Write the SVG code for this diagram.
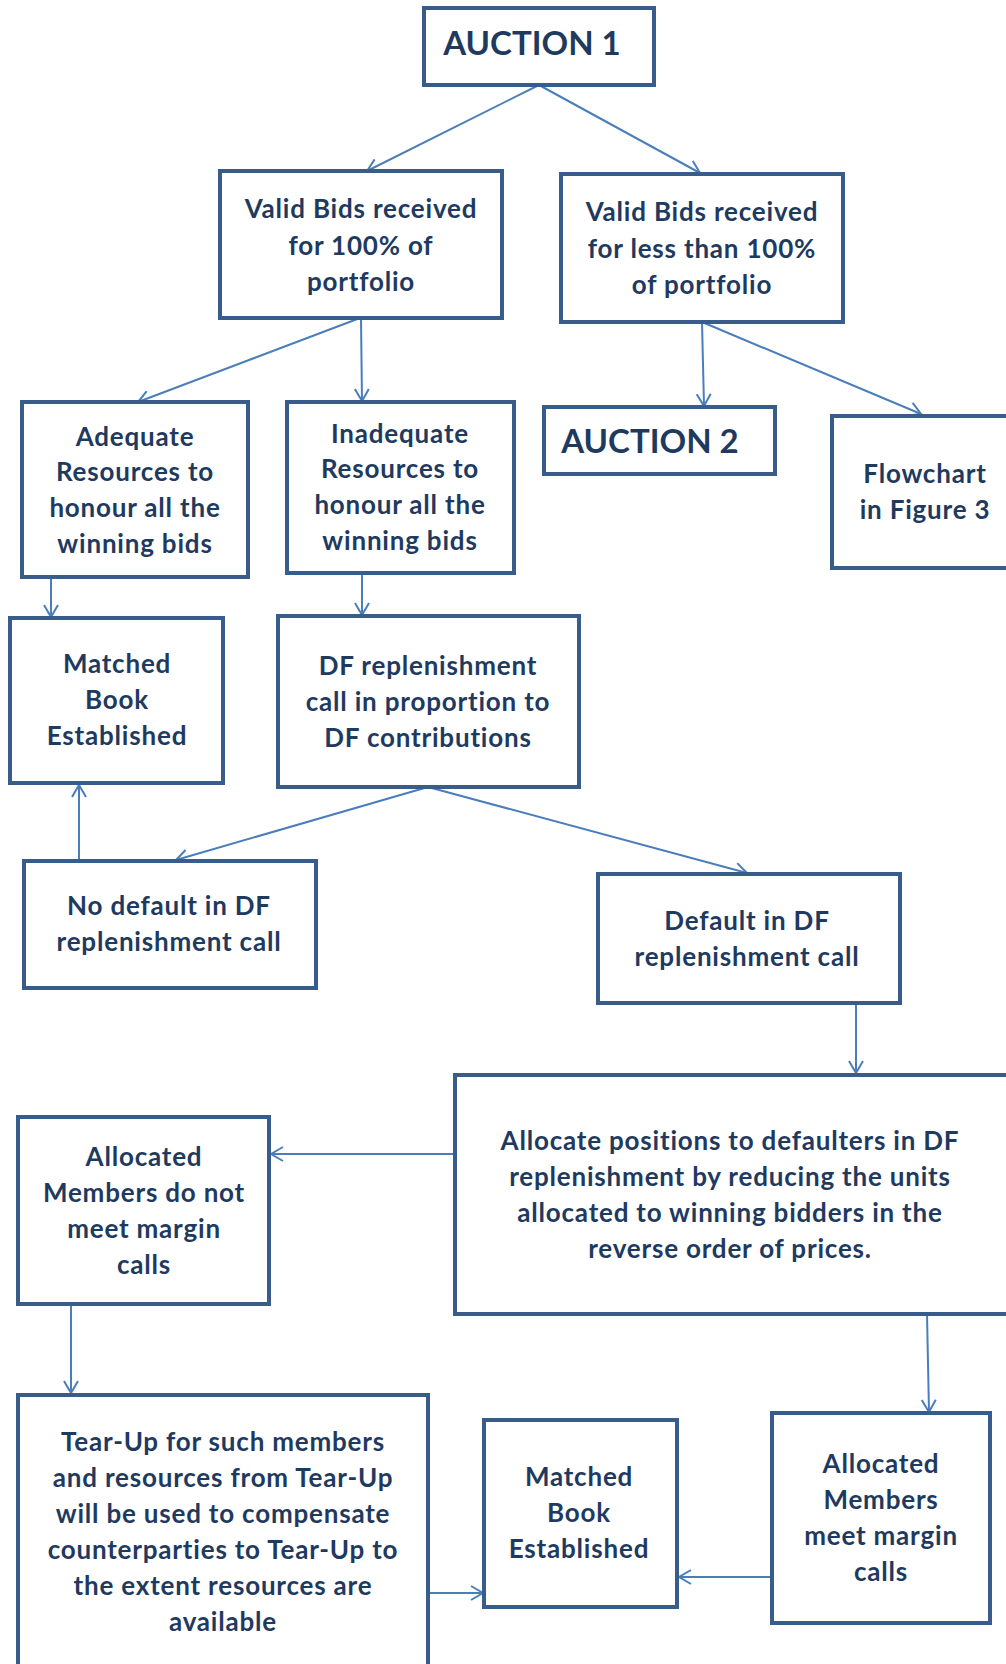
<svg xmlns="http://www.w3.org/2000/svg" width="1006" height="1664" viewBox="0 0 1006 1664">
<style>
.box{fill:#fff;stroke:#385D8A;stroke-width:4}
.t{font-family:Lato,"Liberation Sans",sans-serif;font-weight:bold;font-size:26px;letter-spacing:0.8px;fill:#1F3A5F;text-anchor:middle}
.big{font-size:33px;letter-spacing:0}
.c{stroke:#4A7EBB;stroke-width:2;fill:none}
</style>
<defs>
<marker id="a" markerWidth="16" markerHeight="16" refX="14" refY="8" orient="auto" markerUnits="userSpaceOnUse">
<path d="M2,1 L14,8 L2,15" fill="none" stroke="#4A7EBB" stroke-width="2"/>
</marker>
</defs>
<rect width="1006" height="1664" fill="#fff"/>
<g id="connectors">
<line class="c" x1="539" y1="85" x2="367" y2="171" marker-end="url(#a)"/>
<line class="c" x1="539" y1="85" x2="700" y2="173" marker-end="url(#a)"/>
<line class="c" x1="360" y1="318" x2="138" y2="402" marker-end="url(#a)"/>
<line class="c" x1="361" y1="318" x2="362" y2="401" marker-end="url(#a)"/>
<line class="c" x1="702" y1="322" x2="704" y2="406" marker-end="url(#a)"/>
<line class="c" x1="702" y1="322" x2="921" y2="414" marker-end="url(#a)"/>
<line class="c" x1="51" y1="577" x2="51" y2="617" marker-end="url(#a)"/>
<line class="c" x1="362" y1="573" x2="362" y2="615" marker-end="url(#a)"/>
<line class="c" x1="79" y1="860" x2="79" y2="785" marker-end="url(#a)"/>
<line class="c" x1="428" y1="787" x2="176" y2="860" marker-end="url(#a)"/>
<line class="c" x1="428" y1="787" x2="747" y2="873" marker-end="url(#a)"/>
<line class="c" x1="856" y1="1003" x2="856" y2="1073" marker-end="url(#a)"/>
<line class="c" x1="455" y1="1154" x2="271" y2="1154" marker-end="url(#a)"/>
<line class="c" x1="71" y1="1304" x2="71" y2="1393" marker-end="url(#a)"/>
<line class="c" x1="927" y1="1314" x2="929" y2="1412" marker-end="url(#a)"/>
<line class="c" x1="772" y1="1577" x2="679" y2="1577" marker-end="url(#a)"/>
<line class="c" x1="428" y1="1593" x2="483" y2="1593" marker-end="url(#a)"/>
</g>
<g id="auction1"><rect class="box" x="424" y="8" width="230" height="77"/><text class="t big" x="532" y="55">AUCTION 1</text></g>
<g id="valid100"><rect class="box" x="220" y="171" width="282" height="147"/>
<text class="t" x="361" y="218">Valid Bids received</text><text class="t" x="361" y="255">for 100% of</text><text class="t" x="361" y="291">portfolio</text></g>
<g id="validless"><rect class="box" x="561" y="174" width="282" height="148"/>
<text class="t" x="702" y="221">Valid Bids received</text><text class="t" x="702" y="258">for less than 100%</text><text class="t" x="702" y="294">of portfolio</text></g>
<g id="adequate"><rect class="box" x="22" y="402" width="226" height="175"/>
<text class="t" x="135" y="446">Adequate</text><text class="t" x="135" y="481">Resources to</text><text class="t" x="135" y="517">honour all the</text><text class="t" x="135" y="553">winning bids</text></g>
<g id="inadequate"><rect class="box" x="287" y="402" width="227" height="171"/>
<text class="t" x="400" y="443">Inadequate</text><text class="t" x="400" y="478">Resources to</text><text class="t" x="400" y="514">honour all the</text><text class="t" x="400" y="550">winning bids</text></g>
<g id="auction2"><rect class="box" x="544" y="407" width="231" height="67"/><text class="t big" x="650" y="453">AUCTION 2</text></g>
<g id="flowchart"><rect class="box" x="832" y="416" width="180" height="152"/>
<text class="t" x="925" y="483">Flowchart</text><text class="t" x="925" y="519">in Figure 3</text></g>
<g id="matched1"><rect class="box" x="10" y="618" width="213" height="165"/>
<text class="t" x="117" y="673">Matched</text><text class="t" x="117" y="709">Book</text><text class="t" x="117" y="745">Established</text></g>
<g id="dfcall"><rect class="box" x="278" y="616" width="301" height="171"/>
<text class="t" x="428" y="675">DF replenishment</text><text class="t" x="428" y="711">call in proportion to</text><text class="t" x="428" y="747">DF contributions</text></g>
<g id="nodefault"><rect class="box" x="24" y="861" width="292" height="127"/>
<text class="t" x="169" y="915">No default in DF</text><text class="t" x="169" y="951">replenishment call</text></g>
<g id="default"><rect class="box" x="598" y="874" width="302" height="129"/>
<text class="t" x="747" y="930">Default in DF</text><text class="t" x="747" y="966">replenishment call</text></g>
<g id="allocate"><rect class="box" x="455" y="1075" width="560" height="239"/>
<text class="t" x="730" y="1150">Allocate positions to defaulters in DF</text><text class="t" x="730" y="1186">replenishment by reducing the units</text><text class="t" x="730" y="1222">allocated to winning bidders in the</text><text class="t" x="730" y="1258">reverse order of prices.</text></g>
<g id="notmeet"><rect class="box" x="18" y="1117" width="251" height="187"/>
<text class="t" x="144" y="1166">Allocated</text><text class="t" x="144" y="1202">Members do not</text><text class="t" x="144" y="1238">meet margin</text><text class="t" x="144" y="1274">calls</text></g>
<g id="tearup"><rect class="box" x="18" y="1395" width="410" height="290"/>
<text class="t" x="223" y="1451">Tear-Up for such members</text><text class="t" x="223" y="1487">and resources from Tear-Up</text><text class="t" x="223" y="1523">will be used to compensate</text><text class="t" x="223" y="1559">counterparties to Tear-Up to</text><text class="t" x="223" y="1595">the extent resources are</text><text class="t" x="223" y="1631">available</text></g>
<g id="matched2"><rect class="box" x="484" y="1420" width="193" height="187"/>
<text class="t" x="579" y="1486">Matched</text><text class="t" x="579" y="1522">Book</text><text class="t" x="579" y="1558">Established</text></g>
<g id="meet"><rect class="box" x="772" y="1413" width="218" height="210"/>
<text class="t" x="881" y="1473">Allocated</text><text class="t" x="881" y="1509">Members</text><text class="t" x="881" y="1545">meet margin</text><text class="t" x="881" y="1581">calls</text></g>
</svg>
